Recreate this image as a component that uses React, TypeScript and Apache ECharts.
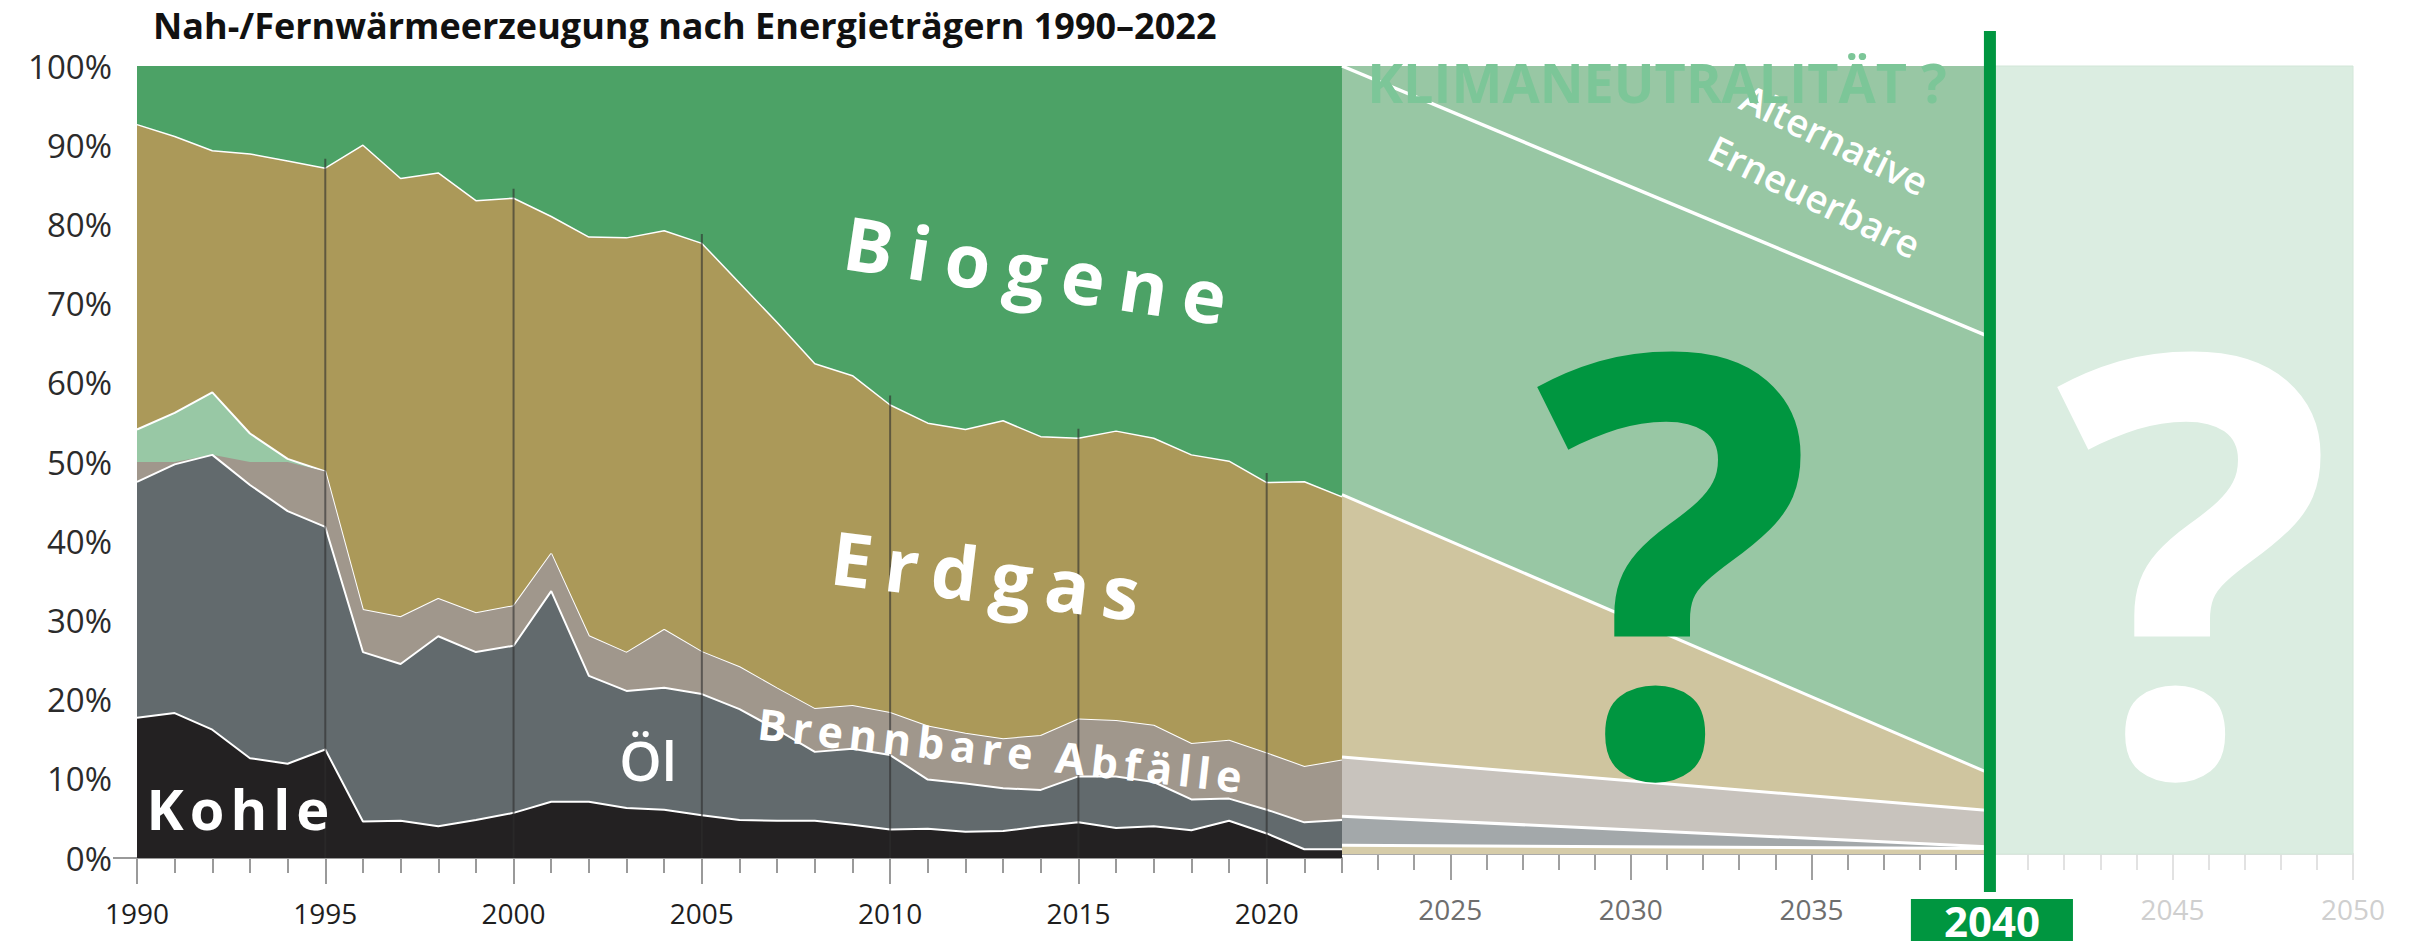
import { useEffect, useRef } from 'react';
import * as echarts from 'echarts';

const FONT = '"Open Sans", "Noto Sans", sans-serif';

// ---- historical data (shares in %, bottom → top) ----
const years = [1990, 1991, 1992, 1993, 1994, 1995, 1996, 1997, 1998, 1999, 2000, 2001, 2002, 2003, 2004, 2005, 2006, 2007, 2008, 2009, 2010, 2011, 2012, 2013, 2014, 2015, 2016, 2017, 2018, 2019, 2020, 2021, 2022];
const kohle = [17.7, 18.3, 16.2, 12.6, 11.9, 13.7, 4.6, 4.7, 4.0, 4.8, 5.7, 7.1, 7.1, 6.3, 6.1, 5.4, 4.8, 4.7, 4.7, 4.2, 3.6, 3.7, 3.3, 3.4, 4.0, 4.5, 3.8, 4.0, 3.5, 4.7, 3.1, 1.1, 1.1];
const oel = [29.8, 31.4, 34.7, 34.5, 31.9, 28.1, 21.4, 19.8, 24.0, 21.2, 21.1, 26.6, 15.9, 14.8, 15.4, 15.3, 14.0, 11.5, 8.7, 9.6, 9.4, 6.2, 6.1, 5.4, 4.6, 5.8, 6.5, 5.6, 3.9, 2.8, 3.0, 3.4, 3.7];
const abfaelle = [2.5, 0.3, 0, 2.9, 6.2, 7.0, 5.3, 5.9, 4.7, 4.9, 5.0, 4.7, 5.0, 4.8, 7.3, 5.3, 5.3, 5.2, 5.4, 5.4, 5.3, 6.7, 6.3, 6.2, 6.8, 7.2, 7.0, 7.1, 7.0, 7.3, 7.1, 7.0, 7.5];
const sonstige = [4.1, 6.2, 7.9, 3.6, 0.4, 0, 0, 0, 0, 0, 0, 0, 0, 0, 0, 0, 0, 0, 0, 0, 0, 0, 0, 0, 0, 0, 0, 0, 0, 0, 0, 0, 0];
const erdgas = [38.5, 34.9, 30.5, 35.3, 37.6, 38.3, 58.7, 55.4, 53.8, 52.1, 51.5, 42.6, 50.4, 52.4, 50.4, 51.6, 48.5, 46.2, 43.6, 41.7, 38.9, 38.3, 38.4, 40.2, 37.8, 35.5, 36.6, 36.3, 36.5, 35.3, 34.2, 36.0, 33.3];
const biogene = [7.4, 8.9, 10.7, 11.1, 12.0, 12.9, 10.0, 14.2, 13.5, 17.0, 16.7, 19.0, 21.6, 21.7, 20.8, 22.4, 27.4, 32.4, 37.6, 39.1, 42.8, 45.1, 45.9, 44.8, 46.8, 47.0, 46.1, 47.0, 49.1, 49.9, 52.6, 52.5, 54.4];

// ---- projection 2022 → 2040 (shares in %) ----
const projYears = [2022, 2040];
const kohleProj = [1.1, 0.7];
const oelProj = [3.7, 0.2];
const abfaelleProj = [7.5, 4.6];
const erdgasProj = [33.3, 4.6];
const biogeneProj = [54.4, 55.4];
const alternativeProj = [0, 34.5];

// ---- axes ----
const histMajor = [1990, 1995, 2000, 2005, 2010, 2015, 2020];
const projMinor = [2023, 2024, 2025, 2026, 2027, 2028, 2029, 2030, 2031, 2032, 2033, 2034, 2035, 2036, 2037, 2038, 2039, 2040];
const lateMinor = [2041, 2042, 2043, 2044, 2045, 2046, 2047, 2048, 2049, 2050];
const projMajor = [2025, 2030, 2035];
const lateMajor = [2045, 2050];
const projLabels = [2025, 2030, 2035, 2040, 2045, 2050];
const markerYears = [1995, 2000, 2005, 2010, 2015, 2020];
const targetYear = 2040;
const endYear = 2050;

const letterSpacing: Record<string, number> = { Biogene: 15, Erdgas: 13, 'Brennbare Abfälle': 6, Kohle: 6 };

function txt(text: string, x: number, y: number, size: number, weight: any, fill: string, rot = 0, align = 'center', lineHeight?: number) {
  const style: any = {
    text, fill, fontSize: size, fontWeight: weight, fontFamily: FONT,
    align, verticalAlign: 'middle', textAlign: align, textVerticalAlign: 'middle',
  };
  if (lineHeight) style.lineHeight = lineHeight;
  return { type: 'text', x, y, rotation: rot, z: 100, silent: true, style };
}

// cumulative tops of stacked layers (computed from the share arrays)
function cumulate(layers: number[][]) {
  const out: number[][] = [];
  layers.forEach((l, i) => {
    out.push(l.map((v, k) => +(v + (i ? out[i - 1][k] : 0)).toFixed(2)));
  });
  return out;
}

export default function App() {
  const ref = useRef<HTMLDivElement>(null);
  useEffect(() => {
    if (!ref.current) return;
    const chart = echarts.init(ref.current, undefined, { renderer: 'svg' });

    const hist = [
      { name: 'Kohle', d: kohle, c: '#232122', lw: 2 },
      { name: 'Öl', d: oel, c: '#626a6d', lw: 2 },
      { name: 'Brennbare Abfälle', d: abfaelle, c: '#a0978c', lw: 0 },
      { name: 'Sonstige', d: sonstige, c: '#98c8a5', lw: 2 },
      { name: 'Erdgas', d: erdgas, c: '#ab9959', lw: 1.5 },
      { name: 'Biogene', d: biogene, c: '#4ca266', lw: 0 },
    ];
    const proj = [
      { name: 'Kohle P', d: kohleProj, c: '#d6cca9', lw: 3 },
      { name: 'Öl P', d: oelProj, c: '#a3a8aa', lw: 3 },
      { name: 'Abfälle P', d: abfaelleProj, c: '#c8c3bd', lw: 3 },
      { name: 'Erdgas P', d: erdgasProj, c: '#cfc59f', lw: 3 },
      { name: 'Biogene P', d: biogeneProj, c: '#98c7a4', lw: 3.5 },
      { name: 'Alternative P', d: alternativeProj, c: '#98c7a4', lw: 0 },
    ];
    const histCum = cumulate(hist.map((h) => h.d));
    const projCum = cumulate(proj.map((h) => h.d));

    const series: any[] = [];
    hist.forEach((s, i) => {
      series.push({
        type: 'line', name: s.name, xAxisIndex: 0, yAxisIndex: 0,
        data: years.map((y, k) => [y, Math.min(100, histCum[i][k])]), symbol: 'none', silent: true,
        lineStyle: { color: '#ffffff', width: s.lw, opacity: s.lw ? 1 : 0 },
        areaStyle: { color: s.c, opacity: 1, origin: 'start' }, z: 10 - i,
      });
    });
    proj.forEach((s, i) => {
      const item: any = {
        type: 'line', name: s.name, xAxisIndex: 2, yAxisIndex: 1,
        data: projYears.map((y, k) => [y, Math.min(100, projCum[i][k])]), symbol: 'none', silent: true,
        lineStyle: { color: '#ffffff', width: s.lw, opacity: s.lw ? 1 : 0 },
        areaStyle: { color: s.c, opacity: 1, origin: 'start' }, z: 10 - i,
      };
      if (i === 0) {
        item.markLine = {
          silent: true, symbol: 'none', label: { show: false },
          lineStyle: { color: '#aaaaaa', width: 2, type: 'solid' },
          data: [[{ coord: [projYears[0], 0] }, { coord: [projYears[1], 0] }]],
        };
      }
      series.push(item);
    });

    // dark vertical marker lines
    series.push({
      type: 'custom', xAxisIndex: 0, yAxisIndex: 0, z: 20, silent: true, clip: false,
      data: markerYears.map((y) => {
        const k = years.indexOf(y);
        return [y, histCum[4][k] + 1.2];
      }),
      renderItem: (params: any, api: any) => {
        const p0 = api.coord([api.value(0), 0]);
        const p1 = api.coord([api.value(0), api.value(1)]);
        return {
          type: 'line', shape: { x1: p0[0], y1: p0[1], x2: p1[0], y2: p1[1] },
          style: { stroke: 'rgba(45,45,45,0.6)', lineWidth: 2 },
        };
      },
    });
    // light region 2040-2050
    series.push({
      type: 'custom', xAxisIndex: 2, yAxisIndex: 1, z: 3, silent: true, clip: false,
      data: [[targetYear, endYear]],
      renderItem: (params: any, api: any) => {
        const a = api.coord([api.value(0), 100]);
        const b = api.coord([api.value(1), 0]);
        return {
          type: 'rect', shape: { x: a[0], y: a[1], width: b[0] - a[0], height: b[1] - a[1] },
          style: { fill: '#dbede1', stroke: '#d2e6d8', lineWidth: 1 },
        };
      },
    });
    // green 2040 marker
    series.push({
      type: 'custom', xAxisIndex: 2, yAxisIndex: 1, z: 30, silent: true, clip: false,
      data: [[targetYear, 100]],
      renderItem: (params: any, api: any) => {
        const t = api.coord([api.value(0), api.value(1)]);
        const b = api.coord([api.value(0), 0]);
        return {
          type: 'rect', shape: { x: t[0] - 8, y: t[1] - 35, width: 12, height: b[1] + 38 - (t[1] - 35) },
          style: { fill: '#009640' },
        };
      },
    });

    const baseX = {
      type: 'value', position: 'bottom', splitLine: { show: false },
      axisLine: { show: false }, axisLabel: { show: false },
    };
    const option: any = {
      animation: false,
      grid: [
        { left: 137, top: 66, width: 1205, height: 792 },
        { left: 1342, top: 66, width: 1011, height: 792 },
      ],
      xAxis: [
        { ...baseX, gridIndex: 0, min: 1990, max: 2022,
          axisLine: { show: true, lineStyle: { color: '#999999', width: 2 } },
          axisTick: { show: true, customValues: years, length: 15, lineStyle: { color: '#9a9a9a', width: 2 } } },
        { ...baseX, gridIndex: 0, min: 1990, max: 2022,
          axisTick: { show: true, customValues: histMajor, length: 26, lineStyle: { color: '#9a9a9a', width: 2 } },
          axisLabel: { show: true, customValues: histMajor, formatter: (v: number) => String(v), color: '#1e1e1e', fontSize: 28, fontFamily: FONT, margin: 41 } },
        { ...baseX, gridIndex: 1, min: 2022, max: endYear,
          axisLine: { show: true, lineStyle: { color: '#e4e4e4', width: 2 } },
          axisTick: { show: true, customValues: projMinor, length: 16, lineStyle: { color: '#a0a0a0', width: 2 } } },
        { ...baseX, gridIndex: 1, min: 2022, max: endYear,
          axisTick: { show: true, customValues: lateMinor, length: 16, lineStyle: { color: '#e2e2e2', width: 2 } } },
        { ...baseX, gridIndex: 1, min: 2022, max: endYear,
          axisTick: { show: true, customValues: projMajor, length: 26, lineStyle: { color: '#a0a0a0', width: 2 } },
          axisLabel: {
            show: true, customValues: projLabels, margin: 41,
            formatter: (v: number) => (v === targetYear ? `{hl|${v}}` : v > targetYear ? `{light|${v}}` : `{mid|${v}}`),
            rich: {
              mid: { color: '#6e6e6e', fontSize: 28, fontFamily: FONT },
              light: { color: '#cfcfcf', fontSize: 28, fontFamily: FONT },
              hl: { color: '#ffffff', fontSize: 42, fontWeight: 'bold', fontFamily: FONT, backgroundColor: '#009640', padding: [0, 33, 0, 33], lineHeight: 50 },
            },
          } },
        { ...baseX, gridIndex: 1, min: 2022, max: endYear,
          axisTick: { show: true, customValues: lateMajor, length: 26, lineStyle: { color: '#e2e2e2', width: 2 } } },
      ],
      yAxis: [
        { type: 'value', gridIndex: 0, min: 0, max: 100, interval: 10, splitLine: { show: false },
          axisLine: { show: false },
          axisTick: { show: true, customValues: [0], length: 24, lineStyle: { color: '#999999', width: 2 } },
          axisLabel: { formatter: '{value}%', color: '#2b2b2b', fontSize: 33, fontFamily: FONT, margin: 25 } },
        { type: 'value', gridIndex: 1, min: 0, max: 100, show: false },
      ],
      series,
      graphic: {
        elements: [
          txt('Nah-/Fernwärmeerzeugung nach Energieträgern 1990–2022', 153, 25, 36, 'bold', '#111111', 0, 'left'),
          txt('Biogene', 1043, 270, 74, 'bold', '#ffffff', -0.148),
          txt('Erdgas', 992, 575, 74, 'bold', '#ffffff', -0.12),
          txt('Brennbare Abfälle', 1003, 750, 43, 'bold', '#ffffff', -0.11),
          txt('Öl', 648, 760, 54, 600, '#ffffff'),
          txt('Kohle', 241, 808, 56, 'bold', '#ffffff'),
          txt('?', 1675, 548, 585, 'bold', '#009640', 0, 'center', 440),
          txt('?', 2195, 548, 585, 'bold', '#ffffff', 0, 'center', 440),
          txt('Alternative', 1835, 139, 38, 600, '#ffffff', -0.454),
          txt('Erneuerbare', 1815, 196, 38, 600, '#ffffff', -0.454),
          txt('KLIMANEUTRALITÄT ?', 1657, 82, 54, 'bold', '#7cc698'),
        ],
      },
    };
    chart.setOption(option);

    const applySpacing = () => {
      ref.current?.querySelectorAll('text').forEach((t) => {
        const s = letterSpacing[(t.textContent || '').trim()];
        if (s) t.setAttribute('letter-spacing', `${s}px`);
      });
    };
    applySpacing();
    chart.on('finished', applySpacing);

    return () => chart.dispose();
  }, []);
  return <div ref={ref} style={{ position: 'absolute', left: 0, top: 0, width: 2420, height: 941 }} />;
}
